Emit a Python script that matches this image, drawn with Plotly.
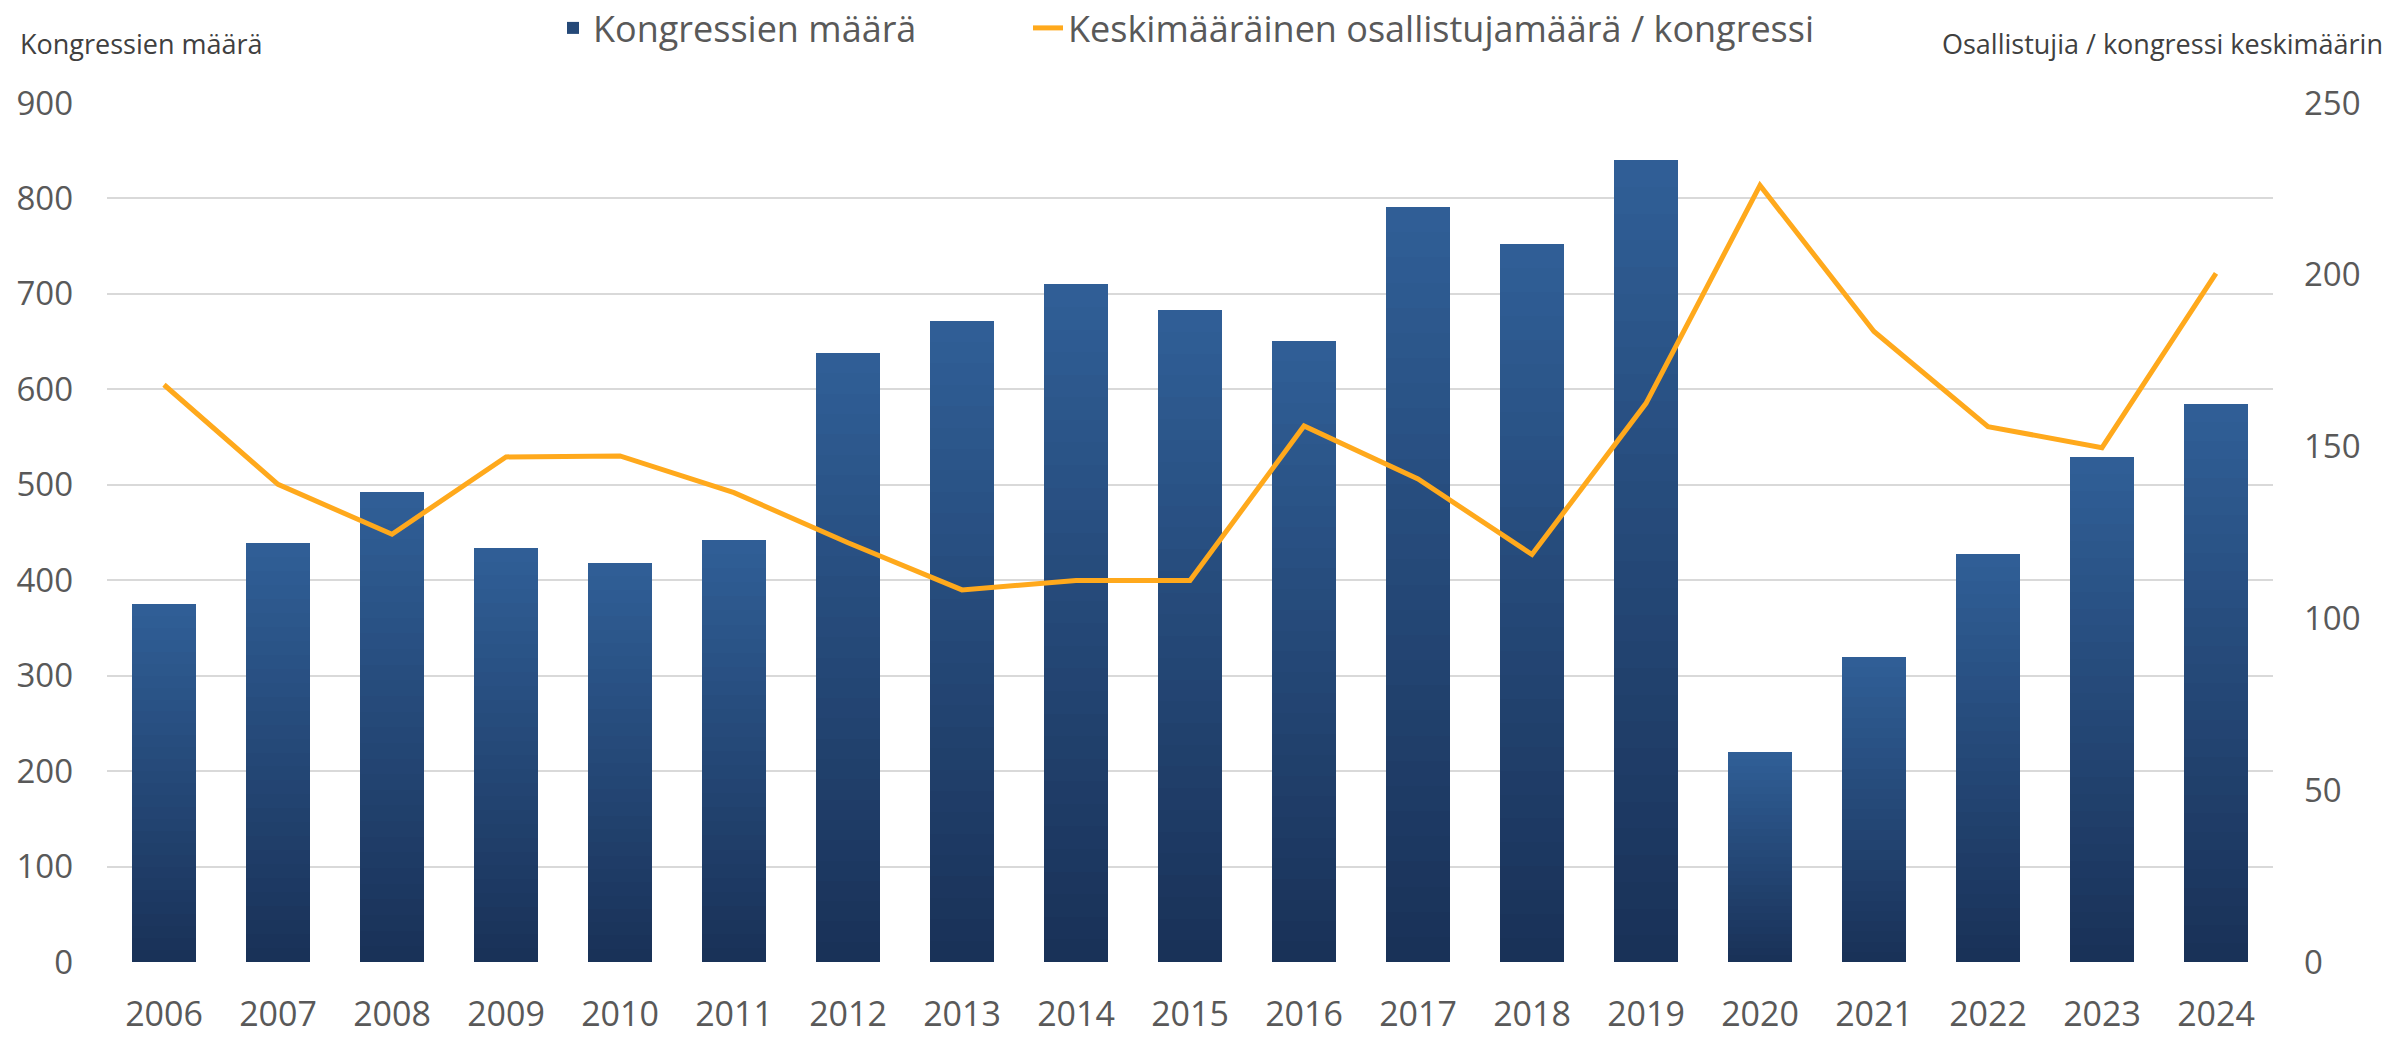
import plotly.graph_objects as go

years = ["2006", "2007", "2008", "2009", "2010", "2011", "2012", "2013", "2014", "2015",
         "2016", "2017", "2018", "2019", "2020", "2021", "2022", "2023", "2024"]
kongressit = [375, 439, 492, 434, 418, 442, 638, 672, 710, 683,
              651, 791, 752, 840, 220, 320, 428, 529, 585]
osallistujat = [168, 139, 124.5, 147, 147.3, 136.6, 122, 108.3, 111, 111,
                156, 140.6, 118.6, 162.6, 226, 183.5, 155.8, 149.7, 200.4]

bar_name = "Kongressien määrä"
line_name = "Keskimääräinen osallistujamäärä / kongressi"
left_title = "Kongressien määrä"
right_title = "Osallistujia / kongressi keskimäärin"

FONT = "Open Sans, Lato, DejaVu Sans, sans-serif"
TXT = "#595959"

bottom_rgb = (25, 49, 87)
top_rgb = (48, 95, 151)
N = 30

fig = go.Figure()
for i in range(N):
    t = (i + 0.5) / N
    c = tuple(round(b + (tp - b) * t) for b, tp in zip(bottom_rgb, top_rgb))
    fig.add_trace(go.Bar(
        x=years, y=[v / N for v in kongressit],
        marker=dict(color="rgb(%d,%d,%d)" % c, line=dict(width=0)),
        name=bar_name, showlegend=(i == N // 2), legendgroup="bars",
        legend="legend", hoverinfo="skip",
    ))

fig.add_trace(go.Scatter(
    x=years, y=osallistujat, yaxis="y2", mode="lines",
    line=dict(color="#FFA91C", width=5),
    name=line_name, legend="legend2",
))

legend_common = dict(orientation="h", yref="container", y=0.973, yanchor="middle",
                     xref="container", xanchor="left",
                     font=dict(size=36, color=TXT, family=FONT),
                     bgcolor="rgba(0,0,0,0)")

fig.update_layout(
    width=2404, height=1037,
    margin=dict(l=107, r=131, t=103, b=75, autoexpand=False),
    paper_bgcolor="white", plot_bgcolor="white",
    barmode="stack", bargap=0.44,
    font=dict(family=FONT, color=TXT),
    legend=dict(x=553 / 2404, **legend_common),
    legend2=dict(x=1028 / 2404, **legend_common),
    xaxis=dict(type="category", showgrid=False, zeroline=False, showline=False,
               tickfont=dict(size=34, color=TXT), ticks="", ticklabelstandoff=29,
               automargin=False),
    yaxis=dict(range=[0, 900], dtick=100, showgrid=True, gridcolor="#D9D9D9", gridwidth=2,
               zeroline=False, showline=False, tickfont=dict(size=33, color=TXT),
               ticks="", ticklabelstandoff=33, automargin=False),
    yaxis2=dict(range=[0, 250], dtick=50, overlaying="y", side="right", showgrid=False,
                zeroline=False, showline=False, tickfont=dict(size=33, color=TXT),
                ticks="", ticklabelstandoff=30, automargin=False),
    annotations=[
        dict(text=left_title, xref="paper", yref="paper", x=-0.0411, y=1.069,
             xanchor="left", yanchor="middle", showarrow=False,
             font=dict(size=27, color="#404040", family=FONT)),
        dict(text=right_title, xref="paper", yref="paper", x=1.0517, y=1.069,
             xanchor="right", yanchor="middle", showarrow=False,
             font=dict(size=27, color="#404040", family=FONT)),
    ],
)

fig.write_html("out.html", config={"displayModeBar": False},
               post_script="document.body.style.margin='0px';document.body.style.overflow='hidden';")
